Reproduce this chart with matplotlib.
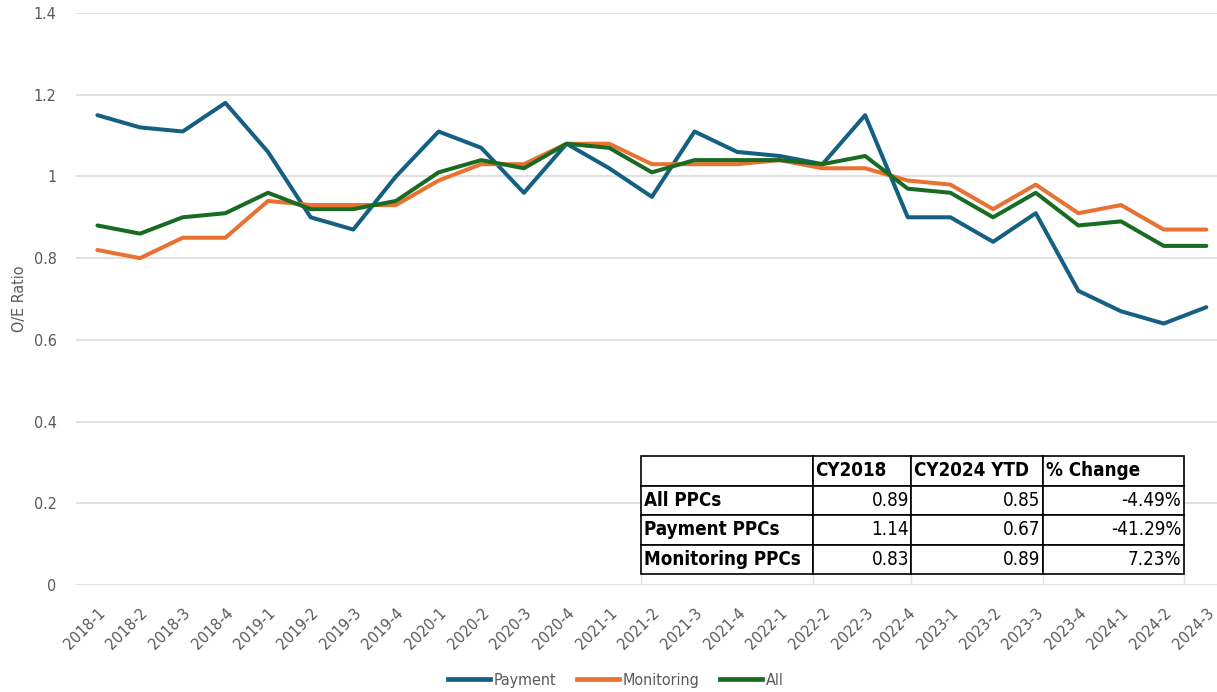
import numpy as np
import matplotlib
matplotlib.use("Agg")
import matplotlib.pyplot as plt
import matplotlib.transforms as mtransforms
from matplotlib.lines import Line2D

# quarterly O/E ratios
quarters = ["2018-1", "2018-2", "2018-3", "2018-4", "2019-1", "2019-2", "2019-3", "2019-4",
            "2020-1", "2020-2", "2020-3", "2020-4", "2021-1", "2021-2", "2021-3", "2021-4",
            "2022-1", "2022-2", "2022-3", "2022-4", "2023-1", "2023-2", "2023-3", "2023-4",
            "2024-1", "2024-2", "2024-3"]
payment = [1.15, 1.12, 1.11, 1.18, 1.06, 0.90, 0.87, 1.00, 1.11, 1.07, 0.96, 1.08, 1.02, 0.95,
           1.11, 1.06, 1.05, 1.03, 1.15, 0.90, 0.90, 0.84, 0.91, 0.72, 0.67, 0.64, 0.68]
monitoring = [0.82, 0.80, 0.85, 0.85, 0.94, 0.93, 0.93, 0.93, 0.99, 1.03, 1.03, 1.08, 1.08, 1.03,
              1.03, 1.03, 1.04, 1.02, 1.02, 0.99, 0.98, 0.92, 0.98, 0.91, 0.93, 0.87, 0.87]
all_ppc = [0.88, 0.86, 0.90, 0.91, 0.96, 0.92, 0.92, 0.94, 1.01, 1.04, 1.02, 1.08, 1.07, 1.01,
           1.04, 1.04, 1.04, 1.03, 1.05, 0.97, 0.96, 0.90, 0.96, 0.88, 0.89, 0.83, 0.83]

# summary table
table_cols = ["CY2018", "CY2024 YTD", "% Change"]
table_rows = ["All PPCs", "Payment PPCs", "Monitoring PPCs"]
cy2018 = [0.89, 1.14, 0.83]
cy2024_ytd = [0.85, 0.67, 0.89]
pct_change = [-4.49, -41.29, 7.23]

series = [("Payment", payment, "#156082"),
          ("Monitoring", monitoring, "#E97132"),
          ("All", all_ppc, "#196B24")]

font = ["DejaVu Sans"]
narrow = "condensed"
text_gray = "#595959"

fig = plt.figure(figsize=(12.17, 6.92), dpi=100)
ax = fig.add_axes([0.0625, 0.1546, 0.9375, 0.8266])

x = np.arange(len(quarters))
for name, vals, color in series:
    ax.plot(x, vals, color=color, lw=2.9, solid_capstyle="round",
            solid_joinstyle="round", zorder=3)

ax.set_ylim(0, 1.4)
ax.set_xlim(-0.5, len(quarters) - 0.75)
ax.set_yticks(np.arange(0, 1.41, 0.2))
ax.set_yticklabels(["0", "0.2", "0.4", "0.6", "0.8", "1", "1.2", "1.4"],
                   family=font, stretch=narrow, fontsize=11.5, color=text_gray)
ax.set_xticks(x)
ax.set_xticklabels(quarters, rotation=45, ha="right", va="top",
                   rotation_mode="anchor", family=font, stretch=narrow,
                   fontsize=11.5, color=text_gray)
shift = mtransforms.ScaledTranslation(3 / 100, 0, fig.dpi_scale_trans)
for lbl in ax.get_xticklabels():
    lbl.set_transform(lbl.get_transform() + shift)
ax.tick_params(axis="both", length=0)
ax.tick_params(axis="y", pad=14)
ax.tick_params(axis="x", pad=15)
ax.grid(axis="y", color="#D9D9D9", lw=1.1, zorder=0)
ax.set_axisbelow(True)
for sp in ax.spines.values():
    sp.set_visible(False)

fig.text(0.016, 0.568, "O/E Ratio", rotation=90, ha="center", va="center",
         family=font, stretch=narrow, fontsize=11.5, color=text_gray)

# summary table drawn over the plot area
tbl_box = [0.495, 0.0192, 0.476, 0.206]
cell_text = [[""] + table_cols]
for r, a, b, c in zip(table_rows, cy2018, cy2024_ytd, pct_change):
    cell_text.append([r, f"{a:.2f}", f"{b:.2f}", f"{c:.2f}%"])
col_px = np.array([172, 98, 132, 141])
widths = col_px / col_px.sum() * tbl_box[2]
tbl = ax.table(cellText=cell_text, colWidths=widths, bbox=tbl_box, zorder=5)
tbl.auto_set_font_size(False)
for (r, c), cell in tbl.get_celld().items():
    cell.set_edgecolor("black")
    cell.set_linewidth(1.2)
    cell.set_facecolor("white")
    t = cell.get_text()
    t.set_fontsize(13.5)
    t.set_family(font)
    t.set_stretch(narrow)
    t.set_color("black")
    cell.PAD = 0.02
    if r == 0 or c == 0:
        t.set_fontweight("bold")
        cell._loc = "left"
        t.set_ha("left")
    else:
        cell._loc = "right"
        t.set_ha("right")

# faint sheet cell lines under the table
edges = tbl_box[0] + np.concatenate([[0], np.cumsum(widths)])
for ex in edges:
    ax.plot([ex, ex], [0, tbl_box[1]], transform=ax.transAxes,
            color="#E3E3E3", lw=1, zorder=1)

handles = [Line2D([], [], color=c, lw=3.4) for _, _, c in series]
fig.legend(handles, [n for n, _, _ in series], loc="center", ncol=3,
           bbox_to_anchor=(0.506, 0.017), frameon=False, handlelength=2.6,
           handletextpad=0.25, columnspacing=1.3,
           prop={"family": font, "stretch": narrow, "size": 11.5})
for t in fig.legends[0].get_texts():
    t.set_color(text_gray)

fig.savefig("out.png", dpi=100)
